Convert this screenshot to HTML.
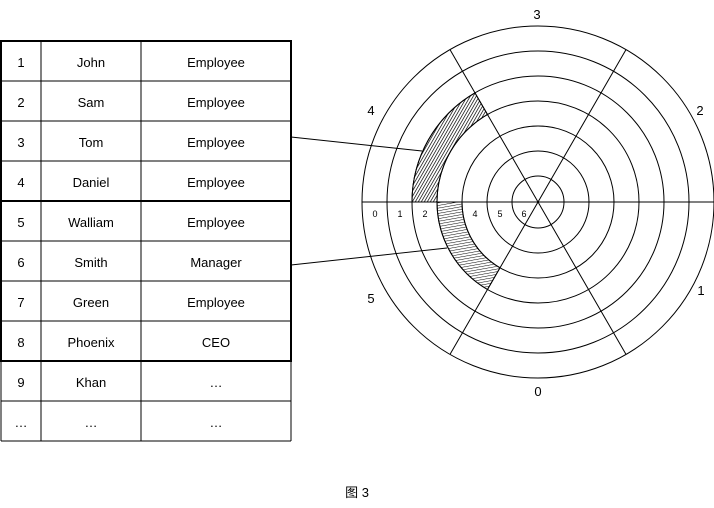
<!DOCTYPE html>
<html><head><meta charset="utf-8"><style>
html,body{margin:0;padding:0;background:#fff;}
svg{display:block;}
text{font-family:"Liberation Sans","Noto Sans CJK SC",sans-serif;fill:#000;}
</style></head><body>
<svg width="714" height="508" viewBox="0 0 714 508" xmlns="http://www.w3.org/2000/svg">
<defs>
<pattern id="h1" patternUnits="userSpaceOnUse" width="2.6" height="2.6" patternTransform="rotate(30)">
<rect width="2.6" height="2.6" fill="#fff"/><line x1="0" y1="0" x2="0" y2="2.6" stroke="#000" stroke-width="1.4"/>
</pattern>
<pattern id="h2" patternUnits="userSpaceOnUse" width="2.6" height="2.6" patternTransform="rotate(-10)">
<rect width="2.6" height="2.6" fill="#fff"/><line x1="0" y1="0" x2="2.6" y2="0" stroke="#000" stroke-width="1"/>
</pattern>
</defs>
<g stroke="#000" fill="none">
<g stroke-width="1">
<line x1="1" y1="81" x2="291" y2="81"/><line x1="1" y1="121" x2="291" y2="121"/><line x1="1" y1="161" x2="291" y2="161"/>
<line x1="1" y1="241" x2="291" y2="241"/><line x1="1" y1="281" x2="291" y2="281"/><line x1="1" y1="321" x2="291" y2="321"/>
<line x1="1" y1="401" x2="291" y2="401"/><line x1="1" y1="441" x2="291" y2="441"/>
<line x1="41" y1="41" x2="41" y2="441"/><line x1="141" y1="41" x2="141" y2="441"/>
<line x1="1" y1="361" x2="1" y2="441"/><line x1="291" y1="361" x2="291" y2="441"/>
</g>
<rect x="1" y="41" width="290" height="160" stroke-width="2"/>
<rect x="1" y="201" width="290" height="160" stroke-width="2"/>
</g>
<g font-size="13" text-anchor="middle">
<text x="21" y="67">1</text><text x="91" y="67">John</text><text x="216" y="67">Employee</text>
<text x="21" y="107">2</text><text x="91" y="107">Sam</text><text x="216" y="107">Employee</text>
<text x="21" y="147">3</text><text x="91" y="147">Tom</text><text x="216" y="147">Employee</text>
<text x="21" y="187">4</text><text x="91" y="187">Daniel</text><text x="216" y="187">Employee</text>
<text x="21" y="227">5</text><text x="91" y="227">Walliam</text><text x="216" y="227">Employee</text>
<text x="21" y="267">6</text><text x="91" y="267">Smith</text><text x="216" y="267">Manager</text>
<text x="21" y="307">7</text><text x="91" y="307">Green</text><text x="216" y="307">Employee</text>
<text x="21" y="347">8</text><text x="91" y="347">Phoenix</text><text x="216" y="347">CEO</text>
<text x="21" y="387">9</text><text x="91" y="387">Khan</text><text x="216" y="387">…</text>
<text x="21" y="427">…</text><text x="91" y="427">…</text><text x="216" y="427">…</text>
</g>
<path d="M412,202 A126,126 0 0 1 475,92.9 L487.5,114.5 A101,101 0 0 0 437,202 Z" fill="url(#h1)" stroke="#000" stroke-width="1"/>
<path d="M437,202 A101,101 0 0 0 487.5,289.5 L500,267.8 A76,76 0 0 1 462,202 Z" fill="url(#h2)" stroke="#000" stroke-width="1"/>
<g stroke="#000" fill="none" stroke-width="1">
<circle cx="538" cy="202" r="176"/><circle cx="538" cy="202" r="151"/><circle cx="538" cy="202" r="126"/>
<circle cx="538" cy="202" r="101"/><circle cx="538" cy="202" r="76"/><circle cx="538" cy="202" r="51"/><circle cx="538" cy="202" r="26"/>
<line x1="362" y1="202" x2="714" y2="202"/>
<line x1="450" y1="49.6" x2="626" y2="354.4"/>
<line x1="626" y1="49.6" x2="450" y2="354.4"/>
<line x1="291" y1="137" x2="422" y2="151"/>
<line x1="291" y1="265" x2="447" y2="248"/>
</g>
<g font-size="13" text-anchor="middle">
<text x="537" y="19">3</text><text x="700" y="115">2</text><text x="701" y="295">1</text>
<text x="538" y="396">0</text><text x="371" y="303">5</text><text x="371" y="115">4</text>
</g>
<g font-size="9" text-anchor="middle">
<text x="375" y="217">0</text><text x="400" y="217">1</text><text x="425" y="217">2</text>
<text x="475" y="217">4</text><text x="500" y="217">5</text><text x="524" y="217">6</text>
</g>
<text x="357" y="497" font-size="13" text-anchor="middle">图 3</text>
</svg>
</body></html>
